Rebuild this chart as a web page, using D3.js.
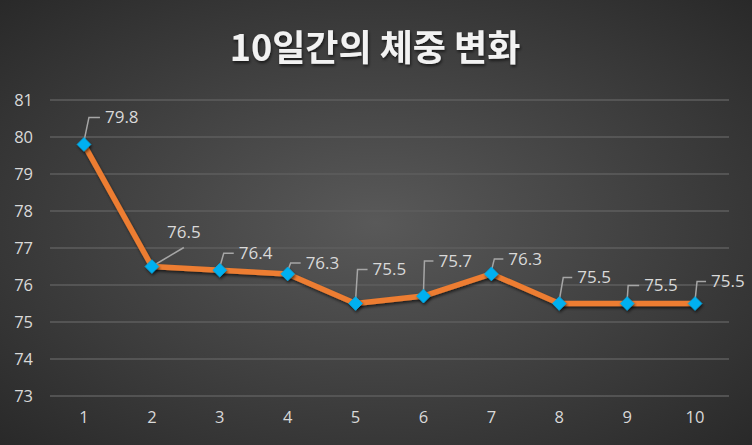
<!DOCTYPE html>
<html><head><meta charset="utf-8">
<script src="https://cdn.jsdelivr.net/npm/d3@7"></script>
<style>html,body{margin:0;padding:0;background:#333;}svg{display:block;}</style>
</head><body>
<script>
const days = [1,2,3,4,5,6,7,8,9,10];
const weights = [79.8,76.5,76.4,76.3,75.5,75.7,76.3,75.5,75.5,75.5];
const yTicks = [73,74,75,76,77,78,79,80,81];
const title = "10일간의 체중 변화";
// leader offsets (layout only): [topDx, topDy, horizLen]
const leaderLayout = [[5,-27,11],[32,-19,0],[4,-17,10],[3,-11,10],[2,-34,10],[1,-35,9],[3,-15,9],[4,-26,9],[1,-18,11],[2,-22,9]];

const W=752,H=445;
const svg=d3.select("body").append("svg").attr("width",W).attr("height",H);
const defs=svg.append("defs");
const rg=defs.append("radialGradient").attr("id","bg").attr("cx","50%").attr("cy","50%").attr("r","75%");
rg.append("stop").attr("offset","0%").attr("stop-color","#595959");
rg.append("stop").attr("offset","100%").attr("stop-color","#262626");
const f=defs.append("filter").attr("id","sh").attr("x","-20%").attr("y","-20%").attr("width","140%").attr("height","160%");
f.append("feDropShadow").attr("dx",1).attr("dy",2).attr("stdDeviation",1.5).attr("flood-color","#000").attr("flood-opacity",0.6);
svg.append("rect").attr("width",W).attr("height",H).attr("fill","url(#bg)");

const x=d3.scaleBand().domain(days).range([50,729]);
const y=d3.scaleLinear().domain([73,81]).range([396,100]);
const cx=d=>x(d)+x.bandwidth()/2;

// gridlines
svg.append("g").selectAll("line").data(yTicks).join("line")
 .attr("x1",50).attr("x2",729).attr("y1",d=>y(d)).attr("y2",d=>y(d))
 .attr("stroke","#5e5e5e").attr("stroke-width",1.3);

const fontNum="'Segoe UI','Open Sans','Noto Sans',sans-serif";
const yAxis=d3.axisLeft(y).tickValues(yTicks).tickSize(0).tickPadding(0);
const gy=svg.append("g").attr("transform","translate(33,0)").call(yAxis);
gy.select(".domain").remove();
gy.selectAll("text").attr("fill","#d9d9d9").attr("font-size","16.5px").attr("font-family",fontNum);

const xAxis=d3.axisBottom(x).tickSize(0).tickPadding(0);
const gx=svg.append("g").attr("transform","translate(0,411)").call(xAxis);
gx.select(".domain").remove();
gx.selectAll("text").attr("fill","#d9d9d9").attr("font-size","16.5px").attr("font-family",fontNum);

// title
svg.append("text").attr("x",375).attr("y",61).attr("text-anchor","middle")
 .attr("font-family","'Noto Sans CJK KR',sans-serif").attr("font-weight","bold").attr("font-size","36px")
 .attr("fill","#f2f2f2").attr("filter","url(#sh)").text(title);

const pts=days.map((d,i)=>({d,v:weights[i],l:leaderLayout[i]}));

// leader lines & labels
const lab=svg.append("g");
pts.forEach((p,i)=>{
  const px=cx(p.d), py=y(p.v);
  const tx=px+p.l[0], ty=py+p.l[1];
  if(p.l[2]>0){
    lab.append("path").attr("d",`M${px},${py-3}L${tx},${ty}L${tx+p.l[2]},${ty}`)
      .attr("fill","none").attr("stroke","#a6a6a6").attr("stroke-width",1.5);
    lab.append("text").attr("x",tx+p.l[2]+5).attr("y",ty).attr("dy","0.35em")
      .attr("fill","#d9d9d9").attr("font-size","17px").attr("font-family",fontNum).text(p.v.toFixed(1));
  } else {
    lab.append("path").attr("d",`M${px},${py}L${tx},${ty}`)
      .attr("fill","none").attr("stroke","#a6a6a6").attr("stroke-width",1.5);
    lab.append("text").attr("x",tx).attr("y",ty-15).attr("text-anchor","middle").attr("dy","0.35em")
      .attr("fill","#d9d9d9").attr("font-size","17px").attr("font-family",fontNum).text(p.v.toFixed(1));
  }
});

// line
const line=d3.line().x(d=>cx(d.d)).y(d=>y(d.v));
svg.append("path").datum(pts).attr("d",line).attr("fill","none")
 .attr("stroke","#ED7D31").attr("stroke-width",5.5).attr("stroke-linejoin","round").attr("filter","url(#sh)");

// markers
svg.append("g").selectAll("path").data(pts).join("path")
 .attr("transform",d=>`translate(${cx(d.d)},${y(d.v)})`)
 .attr("d",d3.symbol().type(d3.symbolDiamond2).size(120))
 .attr("fill","#00B0F0").attr("stroke","#0aa6e0").attr("stroke-width",0.8).attr("filter","url(#sh)");
</script>
</body></html>
